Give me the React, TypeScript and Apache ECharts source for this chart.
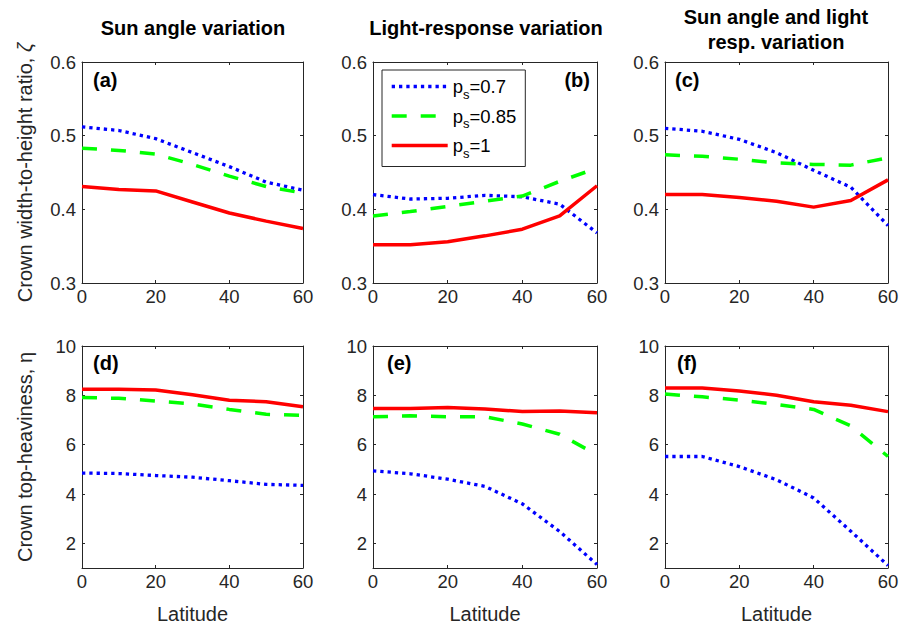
import React, { useEffect, useRef } from 'react';
import * as echarts from 'echarts';

// ---- data ----
const latitudes = [0, 10, 20, 30, 40, 50, 60];

// Crown width-to-height ratio (zeta)
const zetaSun07 = [0.512, 0.507, 0.496, 0.477, 0.458, 0.437, 0.426];
const zetaSun085 = [0.483, 0.480, 0.475, 0.461, 0.445, 0.431, 0.422];
const zetaSun1 = [0.431, 0.427, 0.425, 0.410, 0.395, 0.384, 0.374];

const zetaLR07 = [0.420, 0.414, 0.415, 0.419, 0.417, 0.407, 0.368];
const zetaLR085 = [0.391, 0.397, 0.404, 0.411, 0.418, 0.438, 0.456];
const zetaLR1 = [0.352, 0.352, 0.356, 0.364, 0.373, 0.391, 0.432];

const zetaBoth07 = [0.510, 0.506, 0.495, 0.477, 0.453, 0.430, 0.378];
const zetaBoth085 = [0.474, 0.472, 0.468, 0.463, 0.461, 0.460, 0.470];
const zetaBoth1 = [0.420, 0.420, 0.416, 0.411, 0.403, 0.412, 0.440];

// Crown top-heaviness (eta)
const etaSun07 = [4.85, 4.83, 4.75, 4.68, 4.54, 4.39, 4.35];
const etaSun085 = [7.91, 7.88, 7.77, 7.65, 7.43, 7.23, 7.19];
const etaSun1 = [8.25, 8.25, 8.22, 8.02, 7.80, 7.74, 7.54];

const etaLR07 = [4.94, 4.82, 4.60, 4.31, 3.60, 2.48, 1.14];
const etaLR085 = [7.13, 7.17, 7.13, 7.13, 6.84, 6.42, 5.59];
const etaLR1 = [7.47, 7.47, 7.51, 7.45, 7.34, 7.36, 7.29];

const etaBoth07 = [5.52, 5.52, 5.11, 4.58, 3.84, 2.49, 1.10];
const etaBoth085 = [8.05, 7.94, 7.81, 7.63, 7.43, 6.76, 5.52];
const etaBoth1 = [8.30, 8.30, 8.18, 8.00, 7.74, 7.60, 7.34];

const seriesNames = ['ps=0.7', 'ps=0.85', 'ps=1'];
const legendLabels = ['p{sub|s}=0.7', 'p{sub|s}=0.85', 'p{sub|s}=1'];
const panelTitles = ['Sun angle variation', 'Light-response variation', 'Sun angle and light\nresp. variation'];
const panelLetters = ['(a)', '(b)', '(c)', '(d)', '(e)', '(f)'];
const yNames = ['Crown width-to-height ratio, {i|ζ}', 'Crown top-heaviness, η'];
const xName = 'Latitude';

const panelData = [
  [zetaSun07, zetaSun085, zetaSun1],
  [zetaLR07, zetaLR085, zetaLR1],
  [zetaBoth07, zetaBoth085, zetaBoth1],
  [etaSun07, etaSun085, etaSun1],
  [etaLR07, etaLR085, etaLR1],
  [etaBoth07, etaBoth085, etaBoth1],
];

const FONT = '"Liberation Sans", Arial, Helvetica, sans-serif';
const AX = '#262626';

export default function App() {
  const ref = useRef<HTMLDivElement>(null);

  useEffect(() => {
    document.body.style.margin = '0';
    if (!ref.current) return;
    const chart = echarts.init(ref.current, undefined, { renderer: 'svg' });

    const grids = [
      { left: 82, top: 62, width: 221, height: 221 },
      { left: 373, top: 62, width: 224, height: 221 },
      { left: 665, top: 62, width: 223, height: 221 },
      { left: 82, top: 346, width: 221, height: 222 },
      { left: 373, top: 346, width: 224, height: 222 },
      { left: 665, top: 346, width: 223, height: 222 },
    ];

    const axisLine = { show: true, onZero: false, lineStyle: { color: AX, width: 1 } };
    const axisTick = { show: true, inside: true, length: 3, lineStyle: { color: AX, width: 1 } };
    const labelStyle = { color: AX, fontSize: 18.5, fontFamily: FONT };
    const nameStyle = {
      color: AX, fontSize: 20, fontFamily: FONT,
      rich: { i: { color: AX, fontSize: 20, fontFamily: FONT, fontStyle: 'italic' } },
    };

    const xAxes: any[] = [];
    const yAxes: any[] = [];
    grids.forEach((_, i) => {
      const bottomRow = i >= 3;
      xAxes.push({
        type: 'value', gridIndex: i, min: 0, max: 60, interval: 20, position: 'bottom',
        axisLine, axisTick, splitLine: { show: false },
        axisLabel: { show: true, margin: 4, ...labelStyle },
        name: bottomRow ? xName : '', nameLocation: 'middle', nameGap: 36, nameTextStyle: nameStyle,
      });
      xAxes.push({
        type: 'value', gridIndex: i, min: 0, max: 60, interval: 20, position: 'top',
        axisLine, axisTick, splitLine: { show: false }, axisLabel: { show: false },
      });
      const yRange = bottomRow
        ? { min: 1, max: 10, splitNumber: 5 }
        : { min: 0.3, max: 0.6, interval: 0.1 };
      const showName = i === 0 || i === 3;
      yAxes.push({
        type: 'value', gridIndex: i, position: 'left', ...yRange,
        axisLine, axisTick, splitLine: { show: false },
        axisLabel: { show: true, margin: 6, showMinLabel: !bottomRow, ...labelStyle },
        name: showName ? yNames[bottomRow ? 1 : 0] : '', nameLocation: 'middle', nameGap: 47,
        nameTextStyle: nameStyle,
      });
      yAxes.push({
        type: 'value', gridIndex: i, position: 'right', ...yRange,
        axisLine, axisTick, splitLine: { show: false }, axisLabel: { show: false },
      });
    });

    const lineStyles = [
      { color: '#0000ff', width: 3.3, type: [3.3, 4], cap: 'butt' },
      { color: '#00ff00', width: 3.5, type: [15, 14], cap: 'butt' },
      { color: '#ff0000', width: 3.5, type: 'solid', cap: 'butt' },
    ];

    const series: any[] = [];
    panelData.forEach((set, i) => {
      set.forEach((vals, k) => {
        series.push({
          type: 'line',
          name: seriesNames[k],
          xAxisIndex: 2 * i,
          yAxisIndex: 2 * i,
          data: latitudes.map((x, j) => [x, vals[j]]),
          showSymbol: false,
          symbol: 'none',
          clip: true,
          lineStyle: lineStyles[k],
          itemStyle: { color: lineStyles[k].color },
          emphasis: { disabled: true },
        });
      });
    });

    const titleFont = `bold 20px ${FONT}`;
    const txt = (text: string, x: number, y: number, align: string, font: string) => ({
      type: 'text', x, y, silent: true,
      style: {
        text, font, fill: '#000',
        align, verticalAlign: 'middle', textAlign: align, textVerticalAlign: 'middle',
        lineHeight: 25,
      },
    });

    const graphic = [
      txt(panelTitles[0], 193, 28, 'center', titleFont),
      txt(panelTitles[1], 486, 28, 'center', titleFont),
      txt(panelTitles[2], 776, 29, 'center', titleFont),
      txt(panelLetters[0], 93, 80, 'left', titleFont),
      txt(panelLetters[1], 590, 80, 'right', titleFont),
      txt(panelLetters[2], 675, 80, 'left', titleFont),
      txt(panelLetters[3], 93, 363, 'left', titleFont),
      txt(panelLetters[4], 387, 363, 'left', titleFont),
      txt(panelLetters[5], 677, 363, 'left', titleFont),
    ];

    chart.setOption({
      animation: false,
      backgroundColor: '#ffffff',
      grid: grids,
      xAxis: xAxes,
      yAxis: yAxes,
      series,
      graphic,
      legend: {
        show: true,
        orient: 'vertical',
        left: 382,
        top: 70,
        padding: [7, 9, 7, 8],
        itemWidth: 56,
        itemHeight: 18,
        itemGap: 6,
        borderColor: AX,
        borderWidth: 1,
        backgroundColor: '#ffffff',
        selectedMode: false,
        data: seriesNames,
        itemStyle: { color: 'rgba(0,0,0,0)', borderColor: 'rgba(0,0,0,0)', borderWidth: 0, opacity: 0 },
        lineStyle: { width: 3.4 },
        formatter: (name: string) => legendLabels[seriesNames.indexOf(name)],
        textStyle: {
          fontSize: 18.5,
          color: '#000',
          fontFamily: FONT,
          rich: {
            sub: { fontSize: 13, color: '#000', fontFamily: FONT, padding: [15, 0, 0, 0] },
          },
        },
      },
    });

    return () => chart.dispose();
  }, []);

  return <div ref={ref} style={{ width: 909, height: 627 }} />;
}
